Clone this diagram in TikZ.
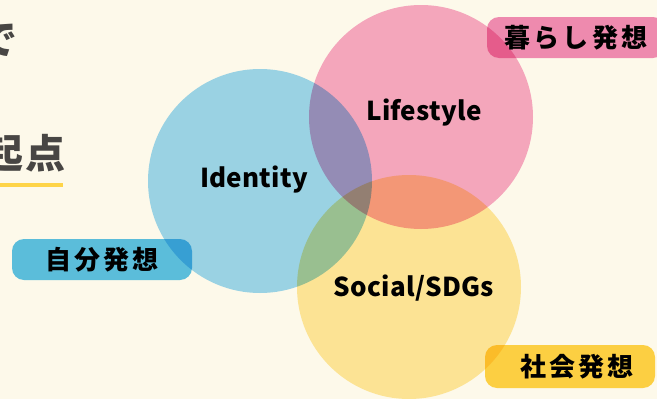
\documentclass[tikz,border=0pt]{standalone}
\usepackage{fontspec}
\newfontfamily\jpfont{Noto Sans CJK JP}
\usetikzlibrary{positioning}
\definecolor{cream}{RGB}{253,249,234}
\definecolor{idblue}{RGB}{156,216,248}
\definecolor{lifepink}{RGB}{246,170,204}
\definecolor{socyellow}{RGB}{254,233,162}
\definecolor{tagblue}{RGB}{92,194,238}
\definecolor{tagpink}{RGB}{240,142,190}
\definecolor{tagyellow}{RGB}{254,212,72}
\definecolor{ink}{RGB}{72,70,68}

\begin{document}
\begin{tikzpicture}
[x=1pt,y=-1pt,%
  every node/.style={inner sep=0pt},%
  title/.style={font=\jpfont\bfseries\fontsize{26}{26}\selectfont\addfontfeatures{LetterSpace=1}},%
  tag/.style={rounded corners=12pt,minimum height=41pt,%
    font=\jpfont\bfseries\fontsize{26}{26}\selectfont\addfontfeatures{LetterSpace=12}},%
  side/.style={text=ink,font=\jpfont\bfseries\fontsize{40}{40}\selectfont\addfontfeatures{LetterSpace=6}}]
\useasboundingbox (0,0) rectangle (657,399);
\fill[cream] (0,0) rectangle (657,399);
\clip (0,0) rectangle (657,399);

% half-hidden heading on the left
\node[side,anchor=east] (de) at (18,40) {で};
\node[side,anchor=east] (kiten) at (66,154) {起点};
\draw[tagyellow,line width=4pt] (0,185) -- (63,185);

\begin{scope}[blend mode=multiply]
\fill[idblue] (260,181) circle[radius=112pt];
\fill[lifepink] (421,117) circle[radius=112pt];
\fill[socyellow] (409,287) circle[radius=112pt];

\node[tag,fill=tagblue,minimum width=180pt] (jibun) at (102,259.5) {自分発想};
\node[tag,fill=tagpink,minimum width=178pt] (kurashi) at (576,37.5) {暮らし発想};
\node[tag,fill=tagyellow,minimum width=170pt,minimum height=43pt] (shakai) at (570,366.5)
  {\hspace*{14pt}社会発想};
\end{scope}

\node[title] (identity) at (254,180) {Identity};
\node[title] (lifestyle) at (424,113) {Lifestyle};
\node[title] (social) at (414,288) {Social/SDGs};
\end{tikzpicture}
\end{document}
